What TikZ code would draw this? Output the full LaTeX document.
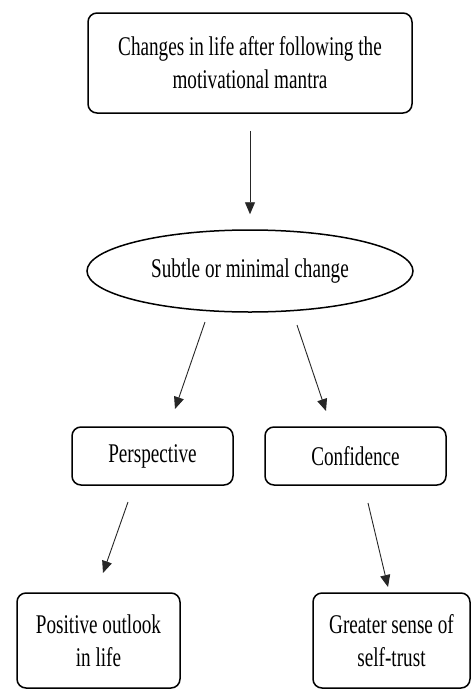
\documentclass[tikz,border=0pt]{standalone}
\usepackage{fontspec}
\setmainfont[FakeStretch=0.71]{Liberation Serif}
\usetikzlibrary{arrows.meta,shapes.geometric}
\begin{document}
\begin{tikzpicture}[x=1pt,y=-1pt,
  box/.style={draw, line width=1.5pt, rounded corners=9pt, inner sep=0pt, align=center,
    font=\fontsize{27}{33}\selectfont},
  oval/.style={draw, ellipse, line width=1.5pt, inner sep=0pt, align=center,
    font=\fontsize{27}{33}\selectfont},
  arr/.style={draw=black!85, line width=0.9pt, -{Triangle[length=12pt,width=10pt]}}]
\useasboundingbox[fill=white] (0,0) rectangle (471,689);
\node[box, minimum width=324, minimum height=100] (top) at (250,63)
  {Changes in life after following the\\motivational mantra};
\node[oval, minimum width=326, minimum height=82] (ell) at (250,271)
  {Subtle or minimal change};
\node[box, minimum width=161, minimum height=58] (persp) at (152.5,456) {Perspective};
\node[box, minimum width=181, minimum height=58] (conf) at (355.5,456) {Confidence};
\node[box, minimum width=163, minimum height=95] (pos) at (98.5,640.5)
  {Positive outlook\\in life};
\node[box, minimum width=157, minimum height=95] (gre) at (391.5,640.5)
  {Greater sense of\\self-trust};
\draw[arr, shorten <=17pt, shorten >=15pt] (top) -- (ell);
\coordinate (c1s) at (205,322); \coordinate (c1e) at (175,409);
\coordinate (c2s) at (297,325); \coordinate (c2e) at (326,411);
\coordinate (c3s) at (128,502); \coordinate (c3e) at (103,573);
\coordinate (c4s) at (368,503); \coordinate (c4e) at (388,587);
\draw[arr] (c1s) -- (c1e);
\draw[arr] (c2s) -- (c2e);
\draw[arr] (c3s) -- (c3e);
\draw[arr] (c4s) -- (c4e);
\end{tikzpicture}
\end{document}
